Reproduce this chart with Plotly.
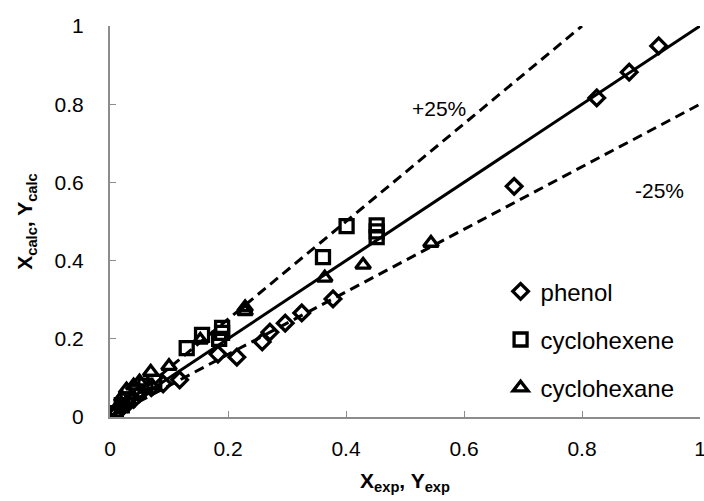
import plotly.graph_objects as go

# ---- data ----
phenol_x = [0.012, 0.02, 0.03, 0.04, 0.05, 0.07, 0.09, 0.118, 0.183, 0.215, 0.258, 0.271, 0.297, 0.325, 0.378, 0.685, 0.825, 0.88, 0.93]
phenol_y = [0.012, 0.025, 0.035, 0.045, 0.06, 0.075, 0.085, 0.095, 0.161, 0.153, 0.192, 0.217, 0.24, 0.266, 0.302, 0.59, 0.816, 0.882, 0.949]

chexene_x = [0.01, 0.02, 0.03, 0.045, 0.06, 0.075, 0.13, 0.156, 0.185, 0.19, 0.19, 0.361, 0.401, 0.452, 0.452, 0.452]
chexene_y = [0.01, 0.03, 0.045, 0.065, 0.08, 0.09, 0.176, 0.21, 0.2, 0.228, 0.215, 0.409, 0.488, 0.49, 0.475, 0.46]

chexane_x = [0.008, 0.015, 0.02, 0.028, 0.04, 0.05, 0.069, 0.1, 0.153, 0.229, 0.229, 0.364, 0.429, 0.544]
chexane_y = [0.01, 0.03, 0.05, 0.07, 0.08, 0.09, 0.115, 0.13, 0.197, 0.27, 0.28, 0.356, 0.389, 0.445]

diag_x = [0, 1]
diag_y = [0, 1]
plus_x = [0, 0.8]
plus_y = [0, 1.0]
minus_x = [0, 1]
minus_y = [0, 0.8]

tick_vals = [0, 0.2, 0.4, 0.6, 0.8, 1]
tick_text = ["0", "0.2", "0.4", "0.6", "0.8", "1"]

FONT = "Arial, Liberation Sans, sans-serif"

fig = go.Figure()

fig.add_trace(go.Scatter(x=diag_x, y=diag_y, mode="lines",
                         line=dict(color="black", width=3),
                         showlegend=False, hoverinfo="skip"))
fig.add_trace(go.Scatter(x=plus_x, y=plus_y, mode="lines",
                         line=dict(color="black", width=3, dash="10px,6px"),
                         showlegend=False, hoverinfo="skip"))
fig.add_trace(go.Scatter(x=minus_x, y=minus_y, mode="lines",
                         line=dict(color="black", width=3, dash="10px,6px"),
                         showlegend=False, hoverinfo="skip"))

marker_line = dict(color="black", width=3.3)
fig.add_trace(go.Scatter(x=phenol_x, y=phenol_y, mode="markers", name="phenol",
                         legendgroup="a",
                         marker=dict(symbol="diamond-open", size=12, color="black",
                                     line=marker_line)))
fig.add_trace(go.Scatter(x=chexene_x, y=chexene_y, mode="markers", name="cyclohexene",
                         legendgroup="b",
                         marker=dict(symbol="square-open", size=13, color="black",
                                     line=marker_line)))
fig.add_trace(go.Scatter(x=chexane_x, y=chexane_y, mode="markers", name="cyclohexane",
                         legendgroup="c",
                         marker=dict(symbol="triangle-up-open", size=13, color="black",
                                     line=marker_line)))

fig.add_annotation(x=0.558, y=0.79, text="+25%", showarrow=False,
                   font=dict(family=FONT, size=21, color="black"))
fig.add_annotation(x=0.932, y=0.58, text="-25%", showarrow=False,
                   font=dict(family=FONT, size=21, color="black"))

axis_common = dict(
    range=[0, 1], tickvals=tick_vals, ticktext=tick_text,
    showgrid=False, zeroline=False, showline=True, linecolor="#8c8c8c", linewidth=2,
    ticks="inside", ticklen=6, tickcolor="#8c8c8c", tickwidth=1,
    tickfont=dict(family=FONT, size=21, color="black"),
    ticklabeloverflow="allow",
)

fig.update_layout(
    width=704, height=501,
    margin=dict(l=110, r=4, t=26, b=84, autoexpand=False),
    plot_bgcolor="white", paper_bgcolor="white",
    font=dict(family=FONT, size=21, color="black"),
    xaxis=dict(**axis_common, ticklabelstandoff=12,
               title=dict(text="<b>X<sub>exp</sub>, Y<sub>exp</sub></b>",
                          font=dict(family=FONT, size=21), standoff=14)),
    yaxis=dict(**axis_common, ticklabelstandoff=20,
               title=dict(text="<b>X<sub>calc</sub>, Y<sub>calc</sub></b>",
                          font=dict(family=FONT, size=21), standoff=16)),
    legend=dict(x=0.662, y=0.378, xanchor="left", yanchor="top",
                bgcolor="rgba(0,0,0,0)", borderwidth=0,
                font=dict(family=FONT, size=24, color="black"),
                tracegroupgap=14, itemwidth=30),
    showlegend=True,
)

fig.write_html("out.html", config={"displayModeBar": False},
               post_script="document.body.style.margin='0';")
